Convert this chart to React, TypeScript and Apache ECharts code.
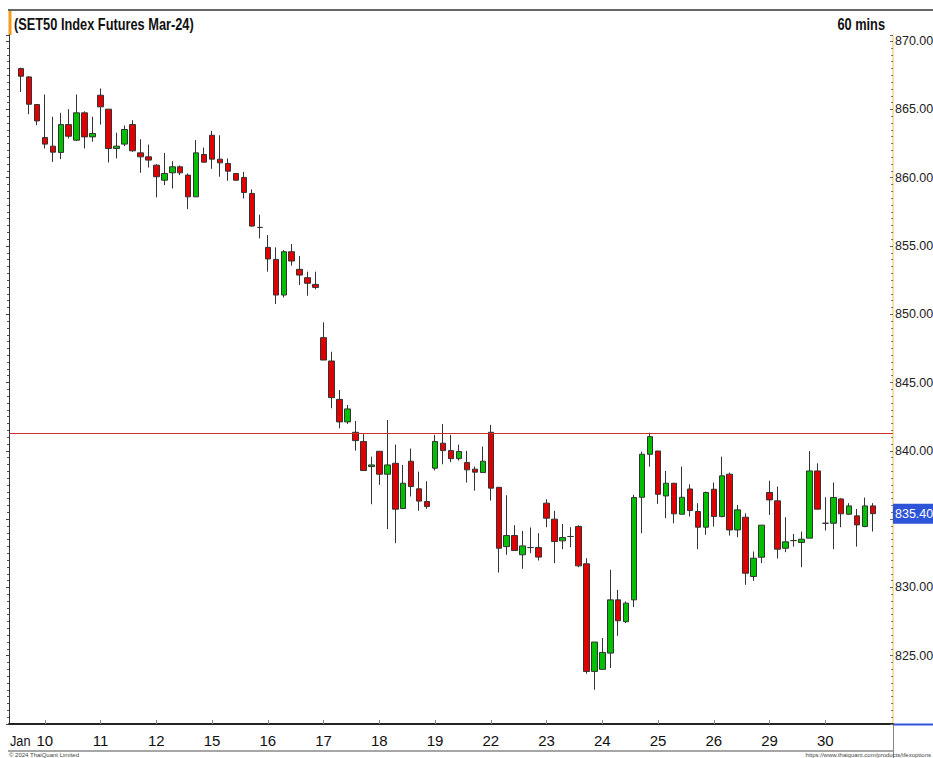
import React, { useEffect, useRef } from "react";
import * as echarts from "echarts";

// Trading days shown (Jan 2024) and hourly bars per day
const dayNames = ["9", "10", "11", "12", "15", "16", "17", "18", "19", "22", "23", "24", "25", "26", "29", "30"];
const barsPerDay = [3, 7, 7, 7, 7, 7, 7, 7, 7, 7, 7, 7, 7, 7, 7, 7];

const opens = [
  867.99, 867.38, 865.36, 862.94, 862.31, 861.85, 863.89, 862.75, 864.75, 862.99,
  866.04, 865.02, 862.14, 862.46, 863.89, 861.82, 861.53, 860.92, 859.82, 860.36,
  860.80, 860.19, 858.60, 861.70, 863.11, 861.36, 861.04, 860.31, 860.02, 858.85,
  856.36, 854.90, 854.02, 851.41, 854.58, 853.29, 852.68, 852.19, 848.29, 846.58,
  843.77, 842.12, 841.36, 840.68, 838.85, 839.97, 838.29, 839.09, 835.78, 839.24,
  837.22, 836.29, 838.73, 840.56, 840.02, 839.43, 839.14, 838.66, 838.41, 841.36,
  837.33, 832.99, 833.80, 832.39, 832.92, 832.92, 836.17, 835.00, 833.41, 833.73,
  834.46, 831.73, 823.85, 824.00, 825.19, 829.09, 827.49, 829.09, 836.60, 839.75,
  839.99, 836.70, 837.63, 835.36, 837.21, 835.56, 834.41, 837.19, 835.19, 838.29,
  834.21, 835.14, 830.80, 832.21, 836.95, 836.34, 832.87, 833.43, 833.29, 833.61,
  838.53, 834.70, 834.70, 836.48, 835.36, 835.24, 834.46, 835.97,
];
const closes = [
  867.43, 865.38, 864.16, 862.46, 861.87, 863.89, 863.04, 864.75, 862.99, 863.24,
  865.19, 862.14, 862.31, 863.53, 861.97, 861.53, 861.29, 860.07, 860.31, 860.80,
  860.36, 858.60, 861.82, 861.14, 861.36, 861.09, 860.48, 859.82, 858.92, 856.46,
  856.36, 854.05, 851.41, 854.58, 853.90, 852.87, 852.27, 851.97, 846.65, 843.90,
  842.12, 843.07, 840.75, 838.56, 838.97, 838.29, 838.97, 835.73, 837.63, 837.39,
  836.32, 835.92, 840.68, 840.02, 839.43, 839.95, 838.61, 838.44, 839.24, 837.27,
  832.87, 833.80, 832.70, 833.04, 832.92, 832.22, 835.07, 833.36, 833.65, 833.73,
  831.58, 823.85, 826.00, 825.24, 829.09, 827.56, 828.85, 836.58, 839.75, 841.04,
  836.82, 837.63, 835.39, 836.60, 835.63, 834.41, 836.95, 835.19, 838.17, 834.21,
  835.68, 831.04, 832.14, 834.56, 836.41, 832.80, 833.34, 833.43, 833.53, 838.53,
  835.73, 834.70, 836.58, 835.39, 835.97, 834.58, 835.97, 835.40,
];
const lows = [
  866.28, 864.65, 863.85, 862.14, 861.16, 861.36, 862.87, 862.68, 862.14, 862.63,
  863.89, 861.12, 861.41, 862.31, 861.90, 860.36, 860.75, 858.56, 859.46, 859.21,
  860.19, 857.70, 858.60, 861.09, 860.65, 860.07, 859.77, 859.77, 858.48, 856.41,
  855.56, 853.12, 850.75, 851.24, 853.56, 852.14, 851.36, 851.83, 846.65, 843.12,
  841.65, 841.97, 840.02, 838.56, 836.09, 837.51, 834.27, 833.24, 835.73, 836.66,
  835.61, 835.75, 838.56, 839.02, 839.17, 839.29, 837.68, 837.09, 838.41, 836.36,
  831.09, 832.39, 832.70, 831.36, 832.51, 831.97, 834.41, 831.78, 832.80, 832.95,
  831.48, 823.68, 822.51, 824.00, 824.10, 826.46, 827.39, 828.56, 833.97, 838.85,
  836.12, 835.07, 834.70, 835.36, 835.19, 832.80, 833.85, 834.46, 835.14, 833.80,
  833.68, 830.19, 830.48, 831.78, 835.31, 832.12, 832.58, 832.99, 831.48, 833.61,
  835.73, 834.17, 832.80, 834.41, 835.31, 832.99, 834.41, 834.09,
];
const highs = [
  868.06, 867.45, 865.36, 866.09, 864.46, 864.75, 865.02, 866.09, 864.87, 864.46,
  866.53, 865.02, 863.29, 863.82, 864.21, 862.82, 862.43, 860.99, 861.82, 861.21,
  860.90, 860.31, 862.75, 862.21, 863.43, 863.11, 861.41, 860.31, 860.43, 859.14,
  857.29, 855.80, 854.90, 854.70, 855.14, 854.26, 853.12, 853.12, 849.41, 847.26,
  844.46, 843.36, 842.19, 841.22, 839.58, 839.97, 842.26, 840.46, 838.97, 840.17,
  838.48, 837.78, 841.17, 841.97, 841.17, 840.46, 840.00, 838.85, 840.31, 841.90,
  837.33, 836.75, 834.56, 834.14, 834.39, 833.97, 836.46, 835.61, 834.65, 834.41,
  834.56, 832.14, 826.00, 826.29, 831.29, 829.82, 828.97, 836.78, 839.94, 841.33,
  839.99, 838.53, 837.63, 838.85, 837.55, 836.17, 837.02, 837.68, 839.58, 838.41,
  836.04, 835.43, 832.63, 834.56, 837.82, 837.38, 835.14, 833.92, 834.09, 839.99,
  839.09, 836.60, 837.68, 836.53, 836.17, 835.75, 836.58, 836.17,
];

const referenceLevel = 841.3;
const lastPrice = 835.4;
// price labels printed on the right axis (835 is covered by the last-price tag)
const yTickLabels = [825, 830, 840, 845, 850, 855, 860, 865, 870];

const SANS = '"Liberation Sans Narrow", "Arial Narrow", "Liberation Sans", Arial, sans-serif';

export default function App() {
  const ref = useRef<HTMLDivElement>(null);

  useEffect(() => {
    if (!ref.current) return;
    const chart = echarts.init(ref.current, null, { renderer: "svg" });

    // categories: one empty slot before, 108 bars, two empty slots after
    const categories: string[] = ["pad0"];
    const dayStart = new Set<number>();
    dayNames.forEach((d, di) => {
      for (let k = 0; k < barsPerDay[di]; k++) {
        if (k === 0 && di > 0) dayStart.add(categories.length);
        categories.push(d + "/" + k);
      }
    });
    categories.push("pad1", "pad2");

    const candleData: any[] = ["-"];
    for (let i = 0; i < opens.length; i++) {
      candleData.push([opens[i], closes[i], lows[i], highs[i]]);
    }
    candleData.push("-", "-");

    const yMin = 820;
    const yMax = 870.45;

    chart.setOption({
      animation: false,
      backgroundColor: "#ffffff",
      grid: {
        left: 9,
        right: 40,
        top: 35,
        bottom: 34,
        containLabel: false,
        outerBoundsMode: "none",
      },
      xAxis: {
        type: "category",
        data: categories,
        boundaryGap: true,
        axisLine: { show: true, onZero: false, lineStyle: { color: "#222", width: 2 } },
        axisTick: {
          show: true,
          inside: true,
          length: 4,
          alignWithLabel: true,
          interval: (idx: number) => dayStart.has(idx),
          lineStyle: { color: "#888" },
        },
        axisLabel: {
          show: true,
          interval: (idx: number) => dayStart.has(idx),
          formatter: (v: string) => v.split("/")[0],
          margin: 9,
          fontFamily: SANS,
          fontSize: 15,
          color: "#111",
          hideOverlap: false,
        },
        splitLine: { show: false },
      },
      yAxis: [
        {
          type: "value",
          position: "right",
          min: yMin,
          max: yMax,
          interval: 5,
          axisLine: { show: true, lineStyle: { color: "#f4d58c", width: 1.5 } },
          axisTick: { show: true, inside: true, length: 3, lineStyle: { color: "#666" } },
          minorTick: { show: true, splitNumber: 10, length: 2, lineStyle: { color: "#777" } },
          axisLabel: {
            show: true,
            inside: false,
            margin: 2,
            showMinLabel: false,
            formatter: (v: number) => (yTickLabels.includes(Math.round(v)) ? v.toFixed(2) : ""),
            fontFamily: SANS,
            fontSize: 12.5,
            color: "#222",
          },
          splitLine: { show: false },
        },
        {
          type: "value",
          position: "left",
          min: yMin,
          max: yMax,
          interval: 5,
          axisLine: { show: true, lineStyle: { color: "#333", width: 1 } },
          axisTick: { show: true, inside: false, length: 3, lineStyle: { color: "#444" } },
          minorTick: { show: true, splitNumber: 10, length: 2, lineStyle: { color: "#555" } },
          axisLabel: { show: false },
          splitLine: { show: false },
        },
      ],
      series: [
        {
          type: "candlestick",
          yAxisIndex: 0,
          data: candleData,
          barWidth: 6,
          silent: true,
          itemStyle: {
            color: "#00c000",
            color0: "#e00000",
            borderColor: "#333333",
            borderColor0: "#333333",
            borderWidth: 1,
          },
          markLine: {
            silent: true,
            symbol: ["none", "none"],
            animation: false,
            data: [
              {
                yAxis: referenceLevel,
                lineStyle: { color: "#c83030", width: 1, type: "solid" },
                label: { show: false },
              },
              {
                yAxis: lastPrice,
                lineStyle: { color: "rgba(255,255,255,0)", width: 0, type: "solid" },
                label: {
                  show: true,
                  position: "end",
                  distance: 0,
                  formatter: () => lastPrice.toFixed(2),
                  backgroundColor: "#2e55d8",
                  color: "#ffffff",
                  opacity: 1,
                  fontFamily: SANS,
                  fontSize: 12.5,
                  padding: [4, 2, 3, 2],
                },
              },
            ],
          },
        },
      ],
      graphic: [
        {
          type: "line",
          shape: { x1: 8, y1: 10, x2: 933, y2: 10 },
          style: { stroke: "#333", lineWidth: 1.5 },
          silent: true,
        },
        {
          type: "rect",
          shape: { x: 8.5, y: 11, width: 3, height: 24 },
          style: { fill: "#f29b1d" },
          silent: true,
        },
        {
          type: "text",
          x: 14,
          y: 24,
          scaleX: 0.8,
          style: {
            text: "(SET50 Index Futures Mar-24)",
            font: 'bold 16px ' + SANS,
            fill: "#111",
            verticalAlign: "middle",
          },
          silent: true,
        },
        {
          type: "text",
          x: 885,
          y: 24,
          scaleX: 0.8,
          style: {
            text: "60 mins",
            font: 'bold 16px ' + SANS,
            fill: "#111",
            align: "right",
            verticalAlign: "middle",
          },
          silent: true,
        },
        {
          type: "line",
          shape: { x1: 893, y1: 724.5, x2: 933, y2: 724.5 },
          style: { stroke: "#2e55d8", lineWidth: 2 },
          silent: true,
        },
        {
          type: "line",
          shape: { x1: 8, y1: 751, x2: 893, y2: 751 },
          style: { stroke: "#888", lineWidth: 1.5 },
          silent: true,
        },
        {
          type: "line",
          shape: { x1: 893.5, y1: 724, x2: 893.5, y2: 758 },
          style: { stroke: "#888", lineWidth: 1 },
          silent: true,
        },
        {
          type: "text",
          x: 10,
          y: 741,
          scaleX: 0.85,
          style: {
            text: "Jan",
            font: '15px ' + SANS,
            fill: "#111",
            verticalAlign: "middle",
          },
          silent: true,
        },
        {
          type: "text",
          x: 9,
          y: 755,
          style: {
            text: "© 2024 ThaiQuant Limited",
            font: '6px "Liberation Sans", Arial, sans-serif',
            fill: "#444",
            verticalAlign: "middle",
          },
          silent: true,
        },
        {
          type: "text",
          x: 931,
          y: 755,
          style: {
            text: "https://www.thaiquant.com/products/tfexoptions",
            font: '6px "Liberation Sans", Arial, sans-serif',
            fill: "#444",
            align: "right",
            verticalAlign: "middle",
          },
          silent: true,
        },
      ],
    });

    return () => chart.dispose();
  }, []);

  return (
    <div
      ref={ref}
      style={{ position: "absolute", left: 0, top: 0, width: 933, height: 758 }}
    />
  );
}
